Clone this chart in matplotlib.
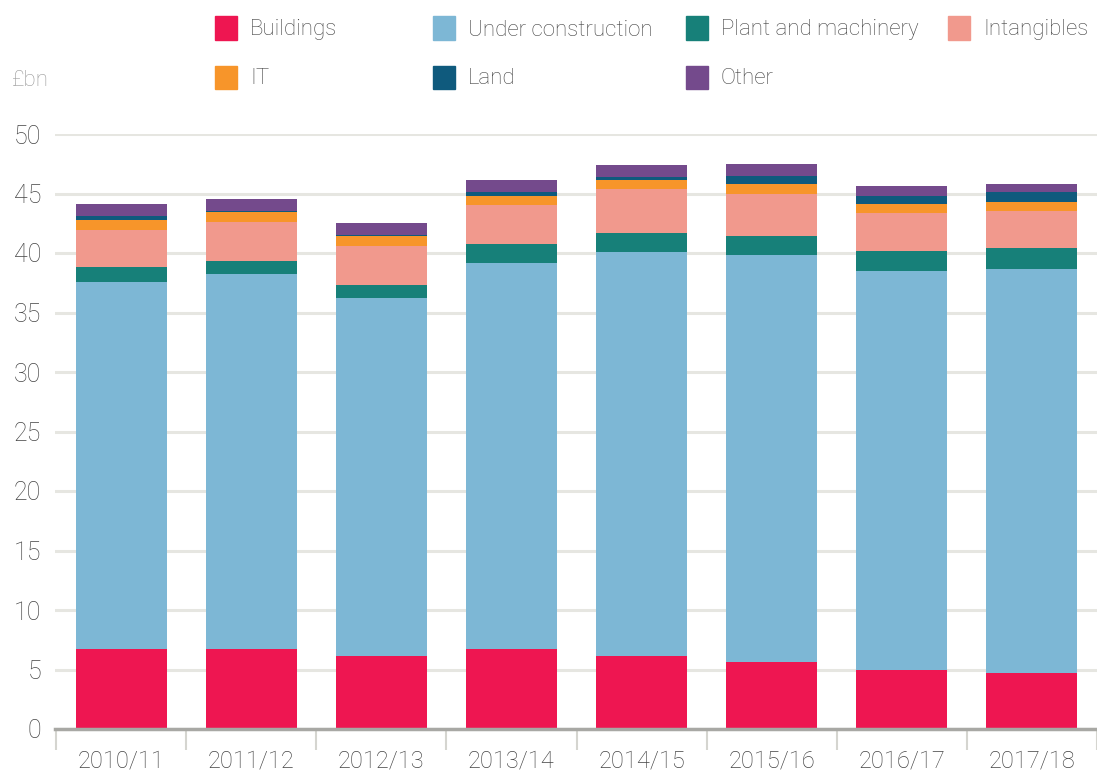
import numpy as np
import matplotlib
matplotlib.use("Agg")
import matplotlib.pyplot as plt
from matplotlib.patches import Rectangle

plt.rcParams['font.family'] = ['Roboto', 'Liberation Sans', 'DejaVu Sans']
plt.rcParams['font.weight'] = 'light'

years = ['2010/11', '2011/12', '2012/13', '2013/14', '2014/15', '2015/16', '2016/17', '2017/18']

# £bn
buildings    = [6.70, 6.70, 6.15, 6.70, 6.15, 5.65, 4.95, 4.70]
under_constr = [30.85, 31.50, 30.05, 32.45, 33.90, 34.15, 33.50, 33.95]
plant        = [1.26, 1.10, 1.10, 1.60, 1.60, 1.60, 1.70, 1.76]
intangibles  = [3.11, 3.28, 3.28, 3.27, 3.70, 3.53, 3.20, 3.10]
it           = [0.84, 0.84, 0.84, 0.76, 0.75, 0.84, 0.76, 0.76]
land         = [0.34, 0.08, 0.08, 0.34, 0.26, 0.67, 0.67, 0.84]
other        = [1.01, 1.00, 1.00, 1.00, 1.00, 1.00, 0.84, 0.67]

series = [
    ('Buildings', buildings, '#EE1651'),
    ('Under construction', under_constr, '#7DB7D5'),
    ('Plant and machinery', plant, '#178079'),
    ('Intangibles', intangibles, '#F1998D'),
    ('IT', it, '#F7952A'),
    ('Land', land, '#0F5A7D'),
    ('Other', other, '#744A8C'),
]

txt = '#444444'
fig = plt.figure(figsize=(10.97, 7.71), dpi=100)
ax = fig.add_axes([55 / 1097, 42 / 771, 1 - 55 / 1097, 595 / 771])

x = np.arange(len(years))
bottom = np.zeros(len(years))
for name, vals, col in series:
    ax.bar(x, vals, bottom=bottom, width=0.70, color=col, zorder=3, linewidth=0)
    bottom += np.array(vals)

ax.set_xlim(-0.508, 7.459)
ax.set_ylim(0, 50)
ax.set_yticks(range(0, 51, 5))
ax.yaxis.grid(True, color='#e6e6e1', linewidth=2.2, zorder=0)
ax.set_axisbelow(True)
for s in ['left', 'right', 'top']:
    ax.spines[s].set_visible(False)
ax.spines['bottom'].set_color('#a8a8a4')
ax.spines['bottom'].set_linewidth(2.5)
ax.spines['bottom'].set_zorder(4)

ax.tick_params(axis='y', length=0, pad=10, labelsize=18, labelcolor=txt)
ax.set_xticks(x)
ax.set_xticklabels(years)
ax.tick_params(axis='x', length=0, pad=15, labelsize=17, labelcolor=txt)
# category separators below the axis
ax.set_xticks(np.arange(-0.5, len(years), 1.0), minor=True)
ax.tick_params(axis='x', which='minor', length=15, width=1.5, color='#d5d5d0')

fig.text(12 / 1097, 1 - 80 / 771, '£bn', fontsize=16, color='#999999', va='center')

# legend laid out as in the original
leg_pos = [(215, 28), (433, 28), (686, 28), (948, 28), (215, 77), (433, 77), (686, 77)]
W, H = 1097.0, 771.0
for (name, vals, col), (px, py) in zip(series, leg_pos):
    fig.patches.append(Rectangle((px / W, 1 - (py + 11.5) / H), 22 / W, 23 / H,
                                 transform=fig.transFigure, color=col, figure=fig))
    fig.text((px + 35) / W, 1 - (py + 2) / H, name, fontsize=16, color=txt, va='center')

fig.savefig('out.png', dpi=100)
